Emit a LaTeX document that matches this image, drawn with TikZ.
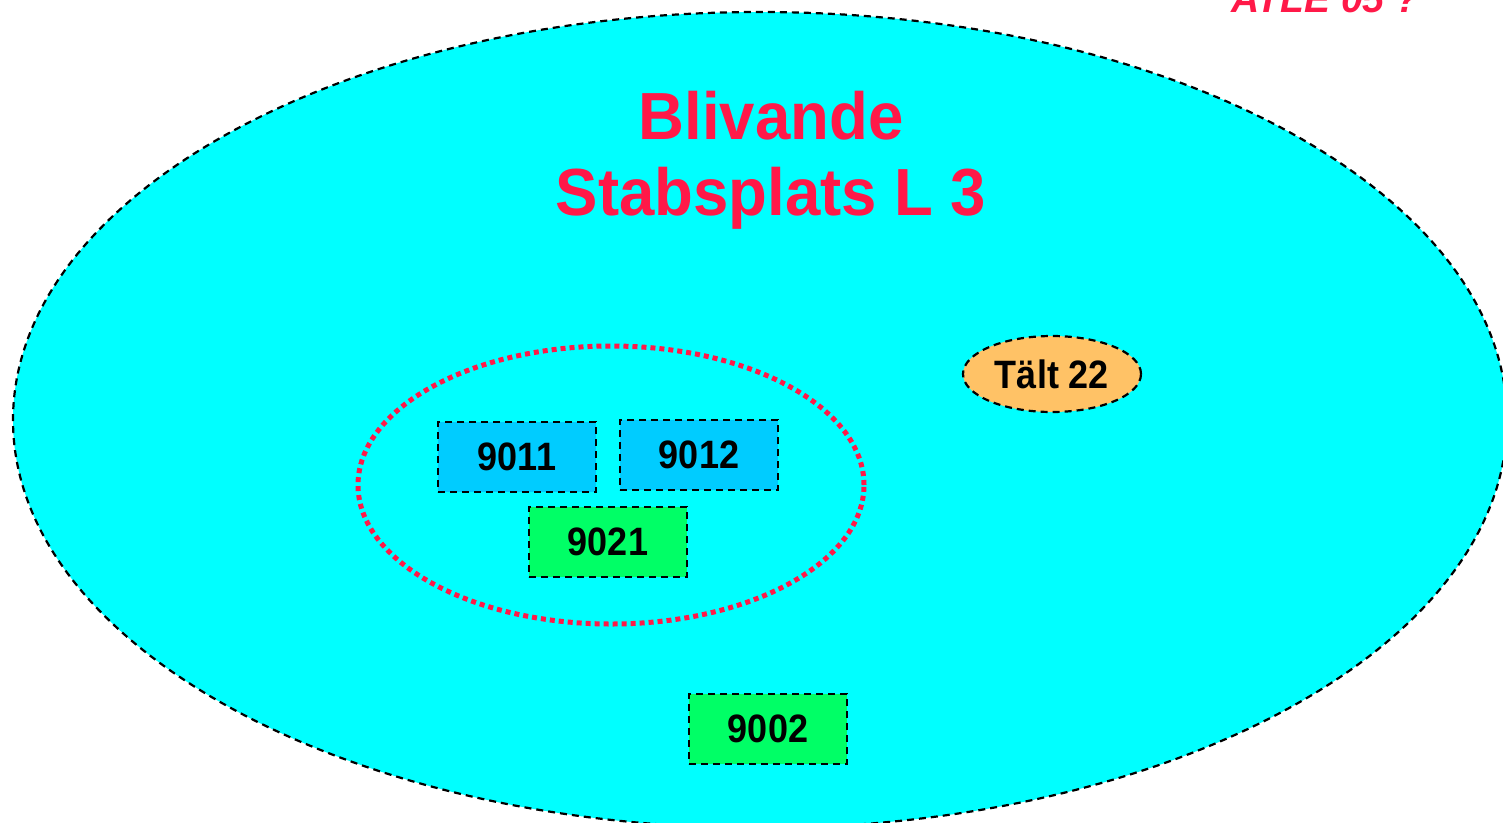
\documentclass[tikz,border=0pt]{standalone}
\usepackage{fontspec}
\setmainfont{Liberation Sans}
\usetikzlibrary{shapes.geometric}
\definecolor{bigcyan}{RGB}{0,255,255}
\definecolor{titlered}{RGB}{255,25,72}
\definecolor{boxblue}{RGB}{0,204,255}
\definecolor{boxgreen}{RGB}{0,255,102}
\definecolor{tentorange}{RGB}{255,194,102}
\newcommand{\tallify}[1]{\scalebox{1}[1.1]{#1}}
\tikzset{
  dashline/.style={draw=black, line width=2.2pt, dash pattern=on 7pt off 5pt},
  unitbox/.style={dashline,
    minimum width=158pt, minimum height=70pt, inner sep=0pt,
    font=\fontsize{36}{40}\selectfont\bfseries},
  bluebox/.style={unitbox, fill=boxblue},
  greenbox/.style={unitbox, fill=boxgreen},
  titletext/.style={text=titlered, font=\fontsize{63.5}{76}\selectfont\bfseries, align=center}
}
\begin{document}
\begin{tikzpicture}[x=1pt,y=-1pt]
\useasboundingbox (0,0) rectangle (1503,822);
\begin{scope}
\clip (0,0) rectangle (1503,822);
\node[ellipse, dashline, fill=bigcyan,
  minimum width=1494pt, minimum height=816pt, inner sep=0pt] (site) at (760,420) {};
\end{scope}
\node[titletext, anchor=base] (t1) at (771,139) {\scalebox{1}[1.05]{Blivande}};
\node[titletext, anchor=base] (t2) at (771,215) {\scalebox{1}[1.05]{Stabsplats L 3}};
\node[text=titlered, font=\fontsize{39}{40}\selectfont\bfseries\itshape, anchor=base west] (atle) at (1228,12) {ATLE 05 ?};
\node[ellipse, draw=titlered, line width=5pt, dash pattern=on 5pt off 4pt,
  minimum width=506pt, minimum height=278pt, inner sep=0pt] (group) at (611,485) {};
\node[bluebox] (b9011) at (517,457) {\tallify{9011}};
\node[bluebox] (b9012) at (699,455) {\tallify{9012}};
\node[greenbox] (b9021) at (608,542) {\tallify{9021}};
\node[greenbox] (b9002) at (768,729) {\tallify{9002}};
\node[ellipse, dashline, fill=tentorange,
  minimum width=178pt, minimum height=76pt, inner sep=0pt,
  font=\fontsize{36}{40}\selectfont\bfseries] (talt) at (1052,374) {\tallify{Tält 22}};
\end{tikzpicture}
\end{document}
